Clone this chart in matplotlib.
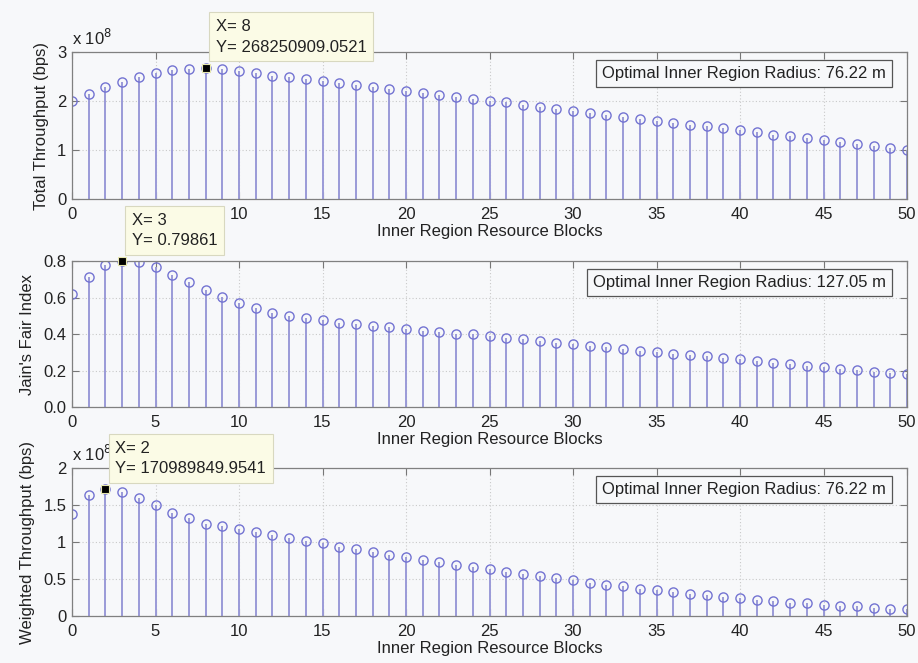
import numpy as np
import matplotlib
matplotlib.use("Agg")
import matplotlib.pyplot as plt
from matplotlib.ticker import FuncFormatter

plt.rcParams['font.family'] = ['Liberation Sans', 'DejaVu Sans']

blocks = list(range(51))

total_throughput = [2.00, 2.14, 2.29, 2.39, 2.49, 2.57, 2.63, 2.66, 2.682509090521, 2.65,
                    2.61, 2.57, 2.52, 2.49, 2.45, 2.41, 2.37, 2.33, 2.29, 2.24,
                    2.21, 2.17, 2.13, 2.09, 2.04, 2.01, 1.97, 1.92, 1.88, 1.84,
                    1.80, 1.76, 1.72, 1.68, 1.64, 1.60, 1.56, 1.52, 1.48, 1.44,
                    1.41, 1.36, 1.31, 1.28, 1.24, 1.20, 1.16, 1.12, 1.08, 1.04, 1.00]
total_throughput = [v * 1e8 for v in total_throughput]

jain_index = [0.617, 0.712, 0.776, 0.79861, 0.795, 0.765, 0.725, 0.685, 0.639, 0.603,
              0.568, 0.542, 0.517, 0.500, 0.486, 0.475, 0.462, 0.453, 0.444, 0.437,
              0.427, 0.418, 0.411, 0.402, 0.398, 0.387, 0.380, 0.371, 0.362, 0.352,
              0.343, 0.334, 0.327, 0.318, 0.309, 0.301, 0.292, 0.283, 0.278, 0.267,
              0.261, 0.250, 0.243, 0.236, 0.226, 0.217, 0.210, 0.201, 0.194, 0.188, 0.181]

weighted_throughput = [1.38, 1.64, 1.709898499541, 1.68, 1.60, 1.50, 1.39, 1.32, 1.25, 1.21,
                       1.17, 1.14, 1.09, 1.05, 1.01, 0.98, 0.93, 0.90, 0.86, 0.83,
                       0.80, 0.76, 0.73, 0.69, 0.66, 0.63, 0.60, 0.57, 0.54, 0.51,
                       0.48, 0.45, 0.42, 0.40, 0.37, 0.35, 0.32, 0.30, 0.28, 0.26,
                       0.24, 0.22, 0.20, 0.18, 0.17, 0.15, 0.14, 0.13, 0.11, 0.10, 0.09]
weighted_throughput = [v * 1e8 for v in weighted_throughput]

xticks = list(range(0, 51, 5))
xlabel = "Inner Region Resource Blocks"
panels = [
    dict(y=total_throughput, ylabel="Total Throughput (bps)", ylim=(0, 3e8),
         yticks=[0, 1e8, 2e8, 3e8], scale=1e8, peak=8, hide_x=[5],
         tip="X= 8\nY= 268250909.0521", radius="Optimal Inner Region Radius: 76.22 m"),
    dict(y=jain_index, ylabel="Jain's Fair Index", ylim=(0, 0.8),
         yticks=[0, 0.2, 0.4, 0.6, 0.8], scale=None, peak=3, hide_x=[],
         tip="X= 3\nY= 0.79861", radius="Optimal Inner Region Radius: 127.05 m"),
    dict(y=weighted_throughput, ylabel="Weighted Throughput (bps)", ylim=(0, 2e8),
         yticks=[0, 0.5e8, 1e8, 1.5e8, 2e8], scale=1e8, peak=2, hide_x=[],
         tip="X= 2\nY= 170989849.9541", radius="Optimal Inner Region Radius: 76.22 m"),
]

bg = "#f7f8fa"
fig = plt.figure(figsize=(9.18, 6.63), dpi=100, facecolor=bg)
rects = [
    [72/918, 1 - 199/663, 835/918, 147/663],
    [72/918, 1 - 407/663, 835/918, 146/663],
    [72/918, 1 - 616/663, 835/918, 148/663],
]
stem_col = "#9a9ad8"
mark_col = "#7373d2"
fs = 12

for rect, p in zip(rects, panels):
    ax = fig.add_axes(rect, facecolor=bg)
    y = p["y"]
    ml, sl, bl = ax.stem(blocks, y, basefmt=" ")
    plt.setp(sl, color=stem_col, linewidth=1.4)
    plt.setp(ml, marker='o', markersize=6.6, markerfacecolor='none',
             markeredgecolor=mark_col, markeredgewidth=1.0)
    ax.set_xlim(0, 50)
    ax.set_ylim(*p["ylim"])
    ax.set_xticks(xticks)
    ax.set_xticklabels(["" if t in p["hide_x"] else str(t) for t in xticks])
    ax.set_yticks(p["yticks"])
    if p["scale"]:
        s = p["scale"]
        ax.yaxis.set_major_formatter(FuncFormatter(lambda v, pos, s=s: ("%g" % (v / s))))
        ax.text(0.0, 1.03, r"x 10$^8$", transform=ax.transAxes, fontsize=fs,
                ha='left', va='bottom', color="#222222")
    ax.grid(True, linestyle=(0, (1, 2)), color="#c9c9c9", linewidth=0.8)
    ax.set_axisbelow(True)
    ax.tick_params(direction='in', length=5, top=True, right=True,
                   labelsize=fs, colors="#222222", width=0.8)
    ax.tick_params(axis='x', pad=6)
    ax.tick_params(axis='y', pad=4)
    ax.tick_params(axis='both', color="#777777")
    for sp in ax.spines.values():
        sp.set_color("#808080")
        sp.set_linewidth(0.9)
    ax.set_xlabel(xlabel, fontsize=fs, color="#222222", labelpad=1)
    ax.set_ylabel(p["ylabel"], fontsize=fs, color="#222222", labelpad=6)

    # data tip
    k = p["peak"]
    ax.plot([k], [y[k]], marker='s', markersize=6, markerfacecolor='black',
            markeredgecolor='#e8e8b0', markeredgewidth=0.8, linestyle='none',
            zorder=6, clip_on=False)
    ax.annotate(p["tip"], xy=(k, y[k]), xytext=(10, 13), textcoords='offset pixels',
                ha='left', va='bottom', fontsize=fs, color="#222222",
                linespacing=1.45, zorder=7, annotation_clip=False,
                bbox=dict(boxstyle='square,pad=0.4', facecolor='#fbfbe6',
                          edgecolor='#d8d8c0', linewidth=0.8))

    # radius text box
    ax.text(0.975, 0.905, p["radius"], transform=ax.transAxes, ha='right', va='top',
            fontsize=fs, color="#222222", zorder=8,
            bbox=dict(boxstyle='square,pad=0.35', facecolor=bg,
                      edgecolor='#555555', linewidth=0.9))

fig.savefig("out.png", dpi=100, facecolor=bg)
